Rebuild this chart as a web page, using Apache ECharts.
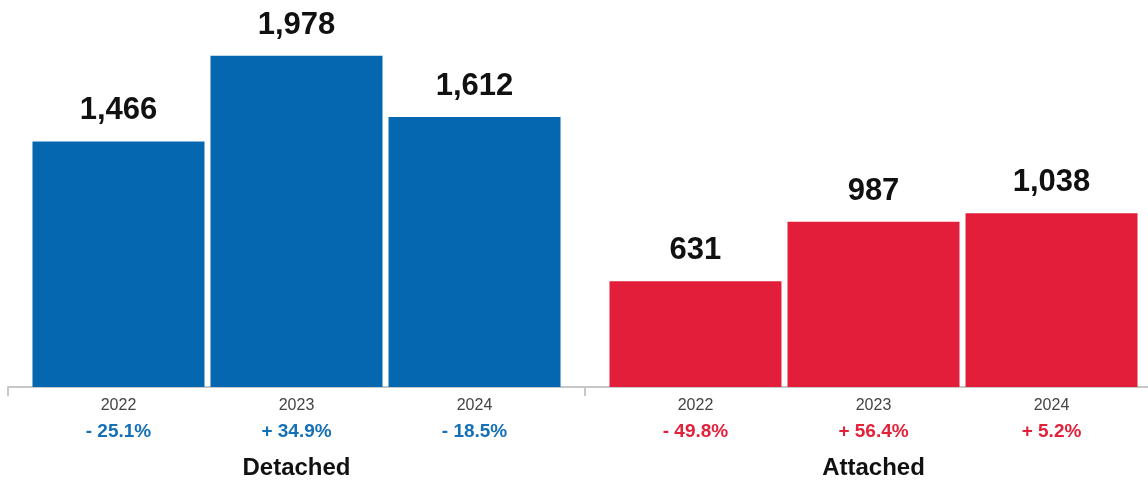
<!DOCTYPE html>
<html>
<head>
<meta charset="utf-8">
<style>
  html, body { margin: 0; padding: 0; background: #fff; overflow: hidden; }
  /* the plot continues a little past the right edge of the window */
  #chart { width: 1162px; height: 481px; }
</style>
<script src="https://cdn.jsdelivr.net/npm/echarts@6/dist/echarts.min.js"></script>
</head>
<body>
<div id="chart"></div>
<script>
// Housing types and years shown
const groups = ['Detached', 'Attached'];
const years = ['2022', '2023', '2024'];

// Units per year, one array per housing type
const detached = [1466, 1978, 1612];
const attached = [631, 987, 1038];

// Year-over-year change labels
const detachedChange = ['- 25.1%', '+ 34.9%', '- 18.5%'];
const attachedChange = ['- 49.8%', '+ 56.4%', '+ 5.2%'];

const BLUE = '#0567b0';
const RED = '#e31e3a';
const BLUE_TXT = '#1570b6';
const RED_TXT = '#e3213b';
const FONT = '"Liberation Sans", Arial, Helvetica, sans-serif';

const series = [];
years.forEach(function (yr, i) {
  // zero-height base bar carrying the year and change text under the axis
  series.push({
    type: 'bar',
    stack: 'y' + yr,
    barWidth: 172,
    barGap: '3.5%',
    silent: true,
    data: [
      { value: 0, label: { formatter: '{yr|' + yr + '}\n{pb|' + detachedChange[i] + '}' } },
      { value: 0, label: { formatter: '{yr|' + yr + '}\n{pr|' + attachedChange[i] + '}' } }
    ],
    itemStyle: { color: 'rgba(0,0,0,0)' },
    label: {
      show: true,
      position: 'bottom',
      distance: 7,
      fontFamily: FONT,
      rich: {
        yr: { fontSize: 16, color: '#444', lineHeight: 24, fontFamily: FONT, align: 'center' },
        pb: { fontSize: 19, fontWeight: 'bold', color: BLUE_TXT, lineHeight: 28, fontFamily: FONT, align: 'center' },
        pr: { fontSize: 19, fontWeight: 'bold', color: RED_TXT, lineHeight: 28, fontFamily: FONT, align: 'center' }
      }
    }
  });
  // the value bar itself
  series.push({
    type: 'bar',
    name: yr,
    stack: 'y' + yr,
    barWidth: 172,
    barGap: '3.5%',
    data: [
      { value: detached[i], itemStyle: { color: BLUE } },
      { value: attached[i], itemStyle: { color: RED } }
    ],
    label: {
      show: true,
      position: 'top',
      distance: 15,
      fontFamily: FONT,
      fontSize: 31,
      fontWeight: 'bold',
      color: '#111',
      formatter: function (p) { return p.value.toLocaleString('en-US'); }
    }
  });
});

const chart = echarts.init(document.getElementById('chart'));
chart.setOption({
  animation: false,
  grid: { left: 8, right: 0, top: 52, height: 335 },
  xAxis: {
    type: 'category',
    data: groups,
    offset: 2,
    axisLine: { lineStyle: { color: '#c8c8c8', width: 2 } },
    axisTick: { show: true, length: 9, lineStyle: { color: '#c8c8c8', width: 2 } },
    axisLabel: {
      margin: 67,
      fontFamily: FONT,
      fontSize: 24,
      fontWeight: 'bold',
      color: '#111'
    }
  },
  yAxis: {
    type: 'value',
    min: 0,
    max: 2000,
    show: false,
    splitLine: { show: false }
  },
  series: series
});
</script>
</body>
</html>
